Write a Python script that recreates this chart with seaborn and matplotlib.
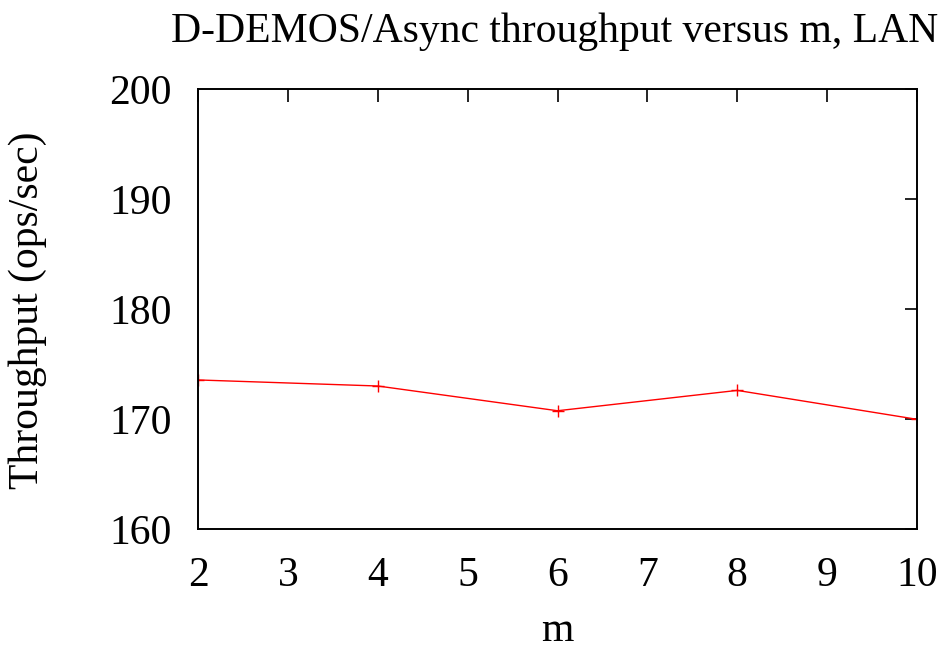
import matplotlib
matplotlib.use("Agg")
import matplotlib.pyplot as plt
import seaborn as sns
import pandas as pd

# Throughput measurements over m (LAN setup)
m_values = [2, 4, 6, 8, 10]
throughput = [173.55, 173.0, 170.75, 172.6, 169.97]
x_ticks = [2, 3, 4, 5, 6, 7, 8, 9, 10]
y_ticks = [160, 170, 180, 190, 200]

sns.set_theme(style="white")
plt.rcParams["font.family"] = ["Liberation Serif", "DejaVu Serif"]

df = pd.DataFrame({"m": m_values, "throughput": throughput})

W, H = 949, 652
fig = plt.figure(figsize=(W / 100, H / 100), dpi=100)
ax = fig.add_axes([198 / W, 1 - 529 / H, (917 - 198) / W, (529 - 89) / H])

sns.lineplot(data=df, x="m", y="throughput", ax=ax, color="red", linewidth=1.0,
             marker="+", markersize=9, markeredgewidth=1.0, markeredgecolor="red")

ax.set_xlim(2, 10)
ax.set_ylim(160, 200)
ax.set_xticks(x_ticks)
ax.set_yticks(y_ticks)
ax.tick_params(direction="in", length=9, width=1.2, top=True, right=True,
               labelsize=30, colors="black")
ax.tick_params(axis="x", pad=20)
ax.tick_params(axis="y", pad=19)
for s in ax.spines.values():
    s.set_color("black")
    s.set_linewidth(1.4)

ax.set_xlabel("")
ax.set_ylabel("")
fig.text(557 / W, 1 - 641 / H, "m", fontsize=30, ha="center", va="baseline",
         color="black")
fig.text(28 / W, 1 - 310 / H, "Throughput (ops/sec)", fontsize=30, rotation=90,
         ha="center", va="center", color="black")
fig.text(555 / W, 1 - 42 / H, "D-DEMOS/Async throughput versus m, LAN",
         fontsize=30, ha="center", va="baseline", color="black")

fig.savefig("out.png", dpi=100)
